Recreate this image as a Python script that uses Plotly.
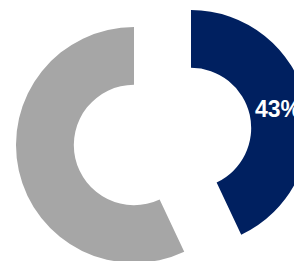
import plotly.graph_objects as go

labels = ["Share", "Rest"]
values = [43, 57]
colors = ["#002060", "#A6A6A6"]

W, H = 304, 258  # div sits 8px in from the page corner (body margin)

fig = go.Figure()

# grey ring (navy slot invisible)
fig.add_trace(go.Pie(
    labels=labels, values=values, sort=False, direction="clockwise", rotation=0,
    hole=0.51,
    marker=dict(colors=["rgba(0,0,0,0)", colors[1]], line=dict(width=0)),
    textinfo="none", hoverinfo="skip",
    domain=dict(x=[8 / W, 244 / W], y=[(H - 255) / H, (H - 19) / H]),
))

# navy slice, exploded
fig.add_trace(go.Pie(
    labels=labels, values=values, sort=False, direction="clockwise", rotation=0,
    hole=0.51,
    marker=dict(colors=[colors[0], "rgba(0,0,0,0)"], line=dict(width=0)),
    texttemplate=["%{percent:.0%}", ""],
    textposition="inside", insidetextorientation="horizontal",
    textfont=dict(family="Liberation Sans", size=23, color="white", weight="bold"),
    hoverinfo="skip",
    domain=dict(x=[65 / W, 301 / W], y=[(H - 238) / H, (H - 2) / H]),
))

fig.update_layout(
    width=W, height=H, margin=dict(l=0, r=0, t=0, b=0),
    showlegend=False, paper_bgcolor="white", plot_bgcolor="white",
    uniformtext=dict(minsize=23, mode="show"),
)

fig.write_html("out.html")
